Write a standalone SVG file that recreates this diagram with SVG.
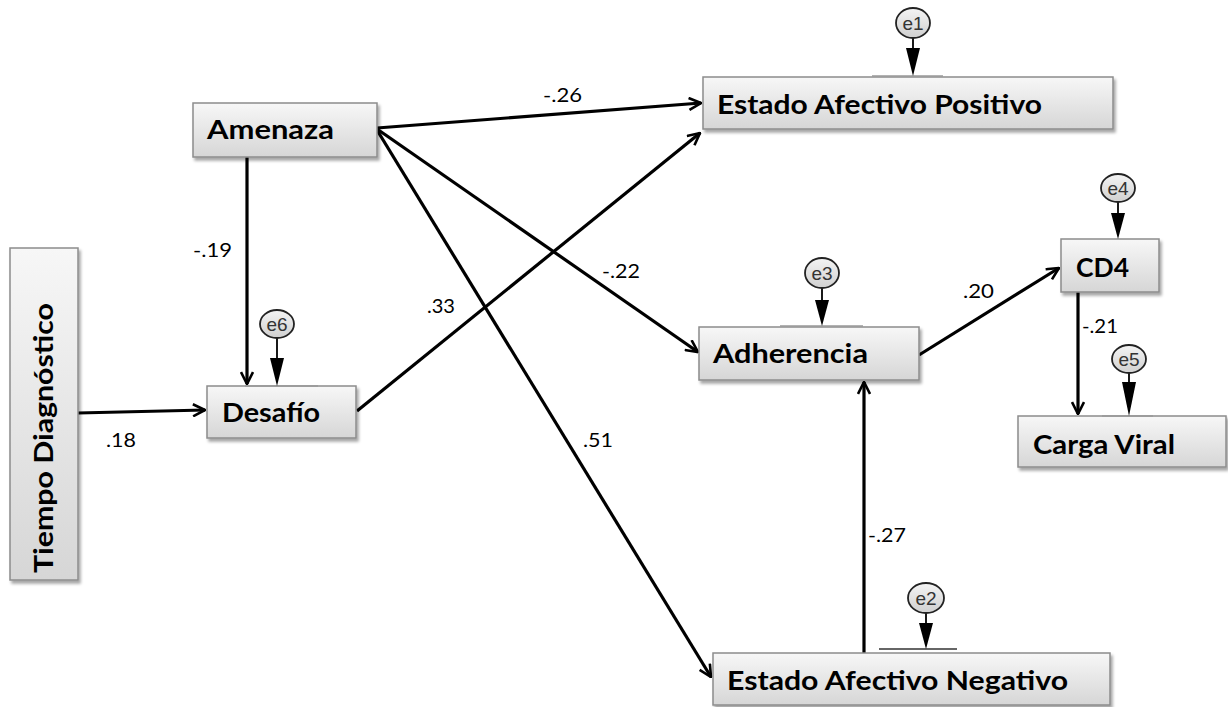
<svg xmlns="http://www.w3.org/2000/svg" width="1228" height="707" viewBox="0 0 1228 707">
<defs>
<linearGradient id="gbox" x1="0" y1="0" x2="0" y2="1">
<stop offset="0" stop-color="#f7f7f7"/>
<stop offset="1" stop-color="#d6d6d6"/>
</linearGradient>
<linearGradient id="gcirc" x1="0" y1="0" x2="0" y2="1">
<stop offset="0" stop-color="#f4f4f4"/>
<stop offset="1" stop-color="#d0d0d0"/>
</linearGradient>
<filter id="sh" x="-10%" y="-20%" width="130%" height="160%">
<feDropShadow dx="2" dy="3" stdDeviation="1.6" flood-color="#000" flood-opacity="0.35"/>
</filter>
<marker id="open" viewBox="0 0 14 14" refX="13" refY="7" markerWidth="14" markerHeight="14" markerUnits="userSpaceOnUse" orient="auto">
<path d="M1,1 L13,7 L1,13" fill="none" stroke="#000" stroke-width="2.6" stroke-linejoin="miter"/>
</marker>
</defs>
<style>
.box{fill:url(#gbox);stroke:#8c8c8c;stroke-width:1.5;filter:url(#sh)}
.lbl{font-family:Lato,"Open Sans",sans-serif;font-weight:bold;font-size:26px;fill:#000}
.num{font-family:Lato,"Open Sans",sans-serif;font-size:19px;fill:#000}
.edge{stroke:#000;stroke-width:3.2;fill:none;marker-end:url(#open)}
.err ellipse{fill:url(#gcirc);stroke:#222;stroke-width:1.8}
.err text{font-family:"Liberation Sans",Arial,sans-serif;font-size:19px;fill:#333;text-anchor:middle}
.err line{stroke:#000;stroke-width:1.8}
.err line.tick{stroke:#999;stroke-width:1.6}
.err line.tick2{stroke:#333;stroke-width:1.6}
.err polygon{fill:#000}
</style>

<g id="connectors">
<line class="edge" x1="78" y1="413" x2="205" y2="410"/>
<line class="edge" x1="247" y1="157" x2="247" y2="384"/>
<line class="edge" x1="377" y1="128" x2="701" y2="103"/>
<line class="edge" x1="377" y1="129" x2="698" y2="352"/>
<line class="edge" x1="377" y1="130" x2="711" y2="677"/>
<line class="edge" x1="357" y1="411" x2="700" y2="133"/>
<line class="edge" x1="919" y1="355" x2="1059" y2="268"/>
<line class="edge" x1="864" y1="653" x2="864" y2="382"/>
<line class="edge" x1="1078" y1="292" x2="1078" y2="414"/>
<text class="num" x="543" y="102" textLength="39" lengthAdjust="spacingAndGlyphs">-.26</text>
<text class="num" x="193" y="257" textLength="39" lengthAdjust="spacingAndGlyphs">-.19</text>
<text class="num" x="427" y="313" textLength="28" lengthAdjust="spacingAndGlyphs">.33</text>
<text class="num" x="602" y="278" textLength="38" lengthAdjust="spacingAndGlyphs">-.22</text>
<text class="num" x="583" y="447" textLength="30" lengthAdjust="spacingAndGlyphs">.51</text>
<text class="num" x="106" y="447" textLength="30" lengthAdjust="spacingAndGlyphs">.18</text>
<text class="num" x="963" y="298" textLength="31" lengthAdjust="spacingAndGlyphs">.20</text>
<text class="num" x="868" y="542" textLength="38" lengthAdjust="spacingAndGlyphs">-.27</text>
<text class="num" x="1082" y="333" textLength="36" lengthAdjust="spacingAndGlyphs">-.21</text>
</g>

<g id="tiempo">
<rect class="box" x="10" y="248" width="68" height="332"/>
<text class="lbl" transform="translate(53,573) rotate(-90)" textLength="270" lengthAdjust="spacingAndGlyphs">Tiempo Diagnóstico</text>
</g>

<g id="amenaza">
<rect class="box" x="193" y="103" width="184" height="54"/>
<text class="lbl" x="207" y="139" textLength="127" lengthAdjust="spacingAndGlyphs">Amenaza</text>
</g>

<g id="desafio">
<rect class="box" x="207" y="386" width="149" height="52"/>
<text class="lbl" x="222" y="422" textLength="98" lengthAdjust="spacingAndGlyphs">Desafío</text>
</g>

<g id="eap">
<rect class="box" x="703" y="77" width="410" height="52"/>
<text class="lbl" x="717" y="114" textLength="325" lengthAdjust="spacingAndGlyphs">Estado Afectivo Positivo</text>
</g>

<g id="adherencia">
<rect class="box" x="699" y="327" width="220" height="53"/>
<text class="lbl" x="713" y="363" textLength="155" lengthAdjust="spacingAndGlyphs">Adherencia</text>
</g>

<g id="ean">
<rect class="box" x="713" y="653" width="397" height="52"/>
<text class="lbl" x="727" y="690" textLength="341" lengthAdjust="spacingAndGlyphs">Estado Afectivo Negativo</text>
</g>

<g id="cd4">
<rect class="box" x="1061" y="239" width="98" height="53"/>
<text class="lbl" x="1076" y="277" textLength="53" lengthAdjust="spacingAndGlyphs">CD4</text>
</g>

<g id="cargaviral">
<rect class="box" x="1018" y="416" width="208" height="51"/>
<text class="lbl" x="1033" y="454" textLength="142" lengthAdjust="spacingAndGlyphs">Carga Viral</text>
</g>

<g id="e1" class="err">
<line class="tick" x1="872" y1="76" x2="943" y2="76"/>
<line x1="913" y1="38" x2="913" y2="50"/>
<polygon points="906,48 920,48 913,76"/>
<ellipse cx="913" cy="23" rx="17" ry="15"/>
<text x="913" y="30">e1</text>
</g>

<g id="e6" class="err">
<line class="tick" x1="245" y1="386" x2="318" y2="386"/>
<line x1="277" y1="338" x2="277" y2="360"/>
<polygon points="270,358 284,358 277,386"/>
<ellipse cx="277" cy="324" rx="17" ry="14"/>
<text x="277" y="331">e6</text>
</g>

<g id="e3" class="err">
<line class="tick" x1="780" y1="326" x2="863" y2="326"/>
<line x1="822" y1="288" x2="822" y2="302"/>
<polygon points="815,300 829,300 822,326"/>
<ellipse cx="822" cy="273" rx="17" ry="15"/>
<text x="822" y="280">e3</text>
</g>

<g id="e4" class="err">
<line x1="1118" y1="202" x2="1118" y2="215"/>
<polygon points="1111,213 1125,213 1118,239"/>
<ellipse cx="1118" cy="188" rx="17" ry="14"/>
<text x="1118" y="195">e4</text>
</g>

<g id="e5" class="err">
<line class="tick" x1="1102" y1="416" x2="1153" y2="416"/>
<line x1="1129" y1="373" x2="1129" y2="384"/>
<polygon points="1122,382 1136,382 1129,416"/>
<ellipse cx="1129" cy="359" rx="17" ry="14"/>
<text x="1129" y="366">e5</text>
</g>

<g id="e2" class="err">
<line class="tick2" x1="879" y1="649" x2="957" y2="649"/>
<line x1="926" y1="613" x2="926" y2="625"/>
<polygon points="919,623 933,623 926,649"/>
<ellipse cx="926" cy="598" rx="18" ry="15"/>
<text x="926" y="605">e2</text>
</g>
</svg>
